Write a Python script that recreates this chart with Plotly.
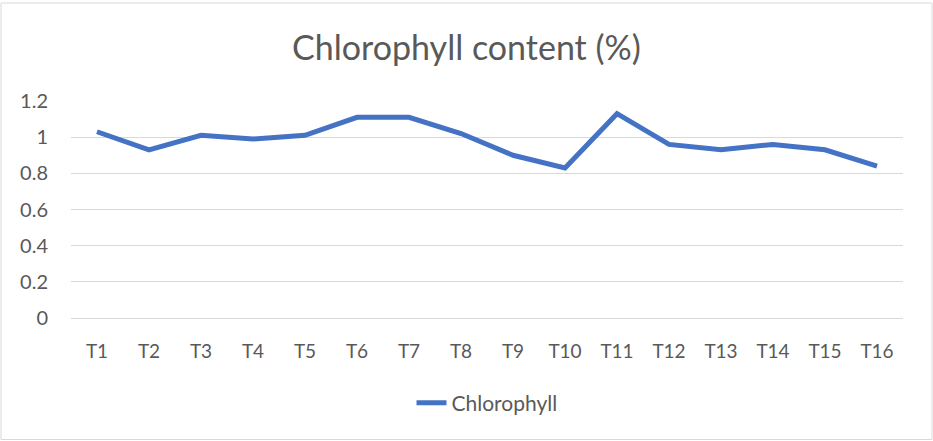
import plotly.graph_objects as go

categories = ["T1", "T2", "T3", "T4", "T5", "T6", "T7", "T8",
              "T9", "T10", "T11", "T12", "T13", "T14", "T15", "T16"]
chlorophyll = [1.03, 0.93, 1.01, 0.99, 1.01, 1.11, 1.11, 1.02,
               0.90, 0.83, 1.13, 0.96, 0.93, 0.96, 0.93, 0.84]
y_ticks = [0, 0.2, 0.4, 0.6, 0.8, 1.0, 1.2]
y_tick_labels = ["0", "0.2", "0.4", "0.6", "0.8", "1", "1.2"]

W, H = 933, 441
ML, MR, MT, MB = 71, 30, 101, 123
pw = W - ML - MR
ph = H - MT - MB

font_family = "Lato, 'Open Sans', sans-serif"
text_color = "#595959"

fig = go.Figure()
fig.add_trace(go.Scatter(
    x=categories, y=chlorophyll, mode="lines", name="Chlorophyll",
    line=dict(color="#4472C4", width=5, shape="linear"),
))

# chart border
fig.add_shape(type="rect", xref="paper", yref="paper",
              x0=(1 - ML) / pw, x1=(932 - ML) / pw,
              y0=(MT + ph - 439.5) / ph, y1=(MT + ph - 3) / ph,
              line=dict(color="#D9D9D9", width=1), layer="below")

fig.update_layout(
    width=W, height=H,
    margin=dict(l=ML, r=MR, t=MT, b=MB),
    paper_bgcolor="white", plot_bgcolor="white",
    font=dict(family=font_family, color=text_color, size=18),
    title=dict(text="Chlorophyll content (%)", x=0.5, xref="container",
               y=1 - 48 / H, yref="container", yanchor="middle", xanchor="center",
               font=dict(size=34, color=text_color, family=font_family)),
    showlegend=True,
    legend=dict(orientation="h", x=0.5, xanchor="center",
                y=(MT + ph - 403) / ph, yanchor="middle",
                font=dict(size=21, color=text_color)),
    xaxis=dict(type="category", range=[-0.5, 15.5], showgrid=False,
               showline=True, linecolor="#D9D9D9", linewidth=1,
               ticks="", ticklabelstandoff=16, tickfont=dict(size=19)),
    yaxis=dict(range=[0, 1.2], tickvals=y_ticks, ticktext=y_tick_labels,
               showgrid=True, gridcolor="#D9D9D9", gridwidth=1,
               zeroline=False, showline=False, ticks="",
               ticklabelstandoff=22, tickfont=dict(size=20)),
)

fig.write_html("out.html", config={"displayModeBar": False},
               post_script="document.body.style.margin='0';document.body.style.overflow='hidden';")
